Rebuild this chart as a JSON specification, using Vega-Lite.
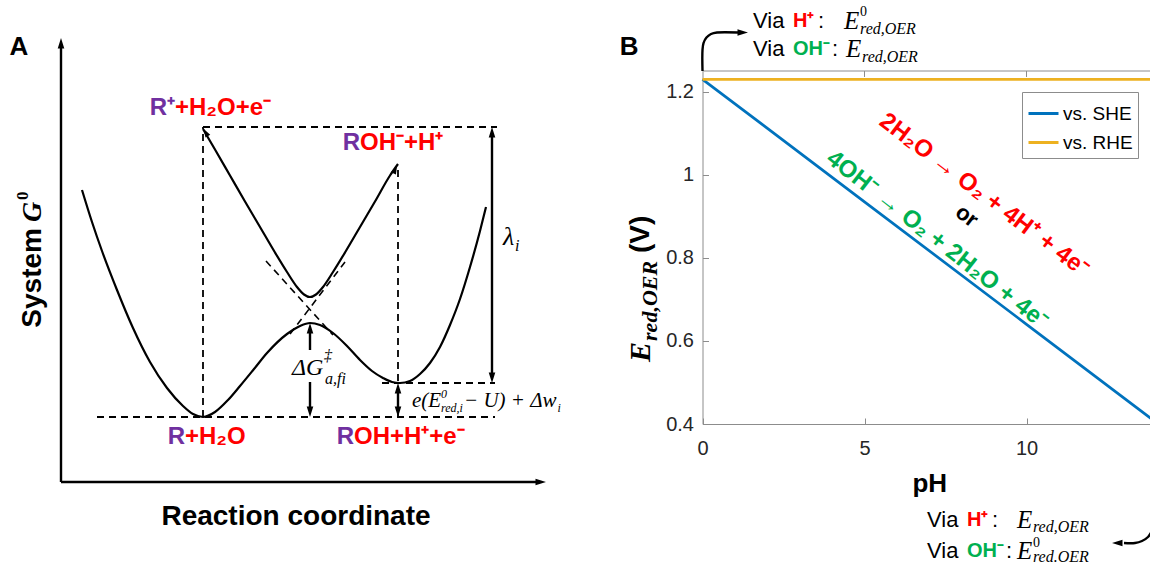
{
  "$schema": "https://vega.github.io/schema/vega-lite/v6.json",
  "width": 1150,
  "height": 567,
  "autosize": {"type": "none"},
  "padding": 0,
  "background": "#ffffff",
  "config": {"view": {"stroke": null}, "font": "Liberation Sans"},
  "datasets": {
    "A_lower": [
      {"x": 0.82, "y": 3.77}, {"x": 0.92, "y": 3.45}, {"x": 1.02, "y": 3.16}, {"x": 1.17, "y": 2.77},
      {"x": 1.33, "y": 2.39}, {"x": 1.50, "y": 2.05}, {"x": 1.67, "y": 1.79}, {"x": 1.83, "y": 1.61},
      {"x": 1.93, "y": 1.53}, {"x": 2.03, "y": 1.50}, {"x": 2.15, "y": 1.55}, {"x": 2.28, "y": 1.67},
      {"x": 2.40, "y": 1.81}, {"x": 2.54, "y": 1.98}, {"x": 2.67, "y": 2.14}, {"x": 2.87, "y": 2.33},
      {"x": 3.00, "y": 2.41}, {"x": 3.10, "y": 2.44}, {"x": 3.20, "y": 2.42}, {"x": 3.33, "y": 2.34},
      {"x": 3.47, "y": 2.21}, {"x": 3.60, "y": 2.07}, {"x": 3.72, "y": 1.96}, {"x": 3.83, "y": 1.89},
      {"x": 3.92, "y": 1.85}, {"x": 4.00, "y": 1.84}, {"x": 4.10, "y": 1.86}, {"x": 4.20, "y": 1.93},
      {"x": 4.30, "y": 2.04}, {"x": 4.40, "y": 2.20}, {"x": 4.50, "y": 2.42}, {"x": 4.60, "y": 2.68},
      {"x": 4.70, "y": 3.00}, {"x": 4.80, "y": 3.36}, {"x": 4.86, "y": 3.60}
    ],
    "A_upper": [
      {"x": 2.03, "y": 4.38}, {"x": 2.15, "y": 4.175}, {"x": 2.30, "y": 3.915}, {"x": 2.45, "y": 3.655},
      {"x": 2.60, "y": 3.40}, {"x": 2.75, "y": 3.145}, {"x": 2.87, "y": 2.95}, {"x": 2.97, "y": 2.80},
      {"x": 3.04, "y": 2.725}, {"x": 3.10, "y": 2.70}, {"x": 3.16, "y": 2.725}, {"x": 3.23, "y": 2.80},
      {"x": 3.33, "y": 2.95}, {"x": 3.45, "y": 3.145}, {"x": 3.60, "y": 3.40}, {"x": 3.75, "y": 3.655},
      {"x": 3.90, "y": 3.915}, {"x": 3.98, "y": 4.03}
    ],
    "A_diab": [
      {"x": 2.66, "y": 3.06, "seg": "product"}, {"x": 3.33, "y": 2.32, "seg": "product"},
      {"x": 2.90, "y": 2.33, "seg": "reactant"}, {"x": 3.45, "y": 3.05, "seg": "reactant"}
    ],
    "A_guides": [
      {"x": 0.97, "y": 1.50, "x2": 4.95, "y2": 1.50},
      {"x": 2.03, "y": 4.40, "x2": 4.97, "y2": 4.40},
      {"x": 3.82, "y": 1.84, "x2": 4.95, "y2": 1.84},
      {"x": 2.03, "y": 1.50, "x2": 2.03, "y2": 4.40},
      {"x": 3.98, "y": 1.50, "x2": 3.98, "y2": 4.02}
    ],
    "A_shafts": [
      {"x": 0.61, "y": 0.85, "x2": 0.61, "y2": 5.23},
      {"x": 0.61, "y": 0.85, "x2": 5.40, "y2": 0.85},
      {"x": 4.92, "y": 4.34, "x2": 4.92, "y2": 1.90},
      {"x": 3.10, "y": 2.38, "x2": 3.10, "y2": 2.17},
      {"x": 3.10, "y": 1.85, "x2": 3.10, "y2": 1.56},
      {"x": 3.98, "y": 1.78, "x2": 3.98, "y2": 1.56}
    ],
    "A_heads": [
      {"x": 0.61, "y": 5.23, "dir": "up"},
      {"x": 4.92, "y": 4.34, "dir": "up"},
      {"x": 3.10, "y": 2.38, "dir": "up"},
      {"x": 3.98, "y": 1.78, "dir": "up"},
      {"x": 4.92, "y": 1.90, "dir": "down"},
      {"x": 3.10, "y": 1.56, "dir": "down"},
      {"x": 3.98, "y": 1.56, "dir": "down"},
      {"x": 5.40, "y": 0.85, "dir": "right"},
      {"x": 2.06, "y": 4.34, "dir": "upleft"},
      {"x": 3.95, "y": 3.97, "dir": "upright"}
    ],
    "A_species": [
      {"x": 1.75, "y": 4.59, "pre": "R⁺", "rest": "+H₂O+e⁻"},
      {"x": 3.60, "y": 4.24, "pre": "R", "rest": "OH⁻+H⁺"},
      {"x": 1.85, "y": 1.30, "pre": "R", "rest": "+H₂O"},
      {"x": 3.54, "y": 1.30, "pre": "R", "rest": "OH+H⁺+e⁻"}
    ],
    "A_panel": [{"x": 0.19, "y": 5.20, "t": "A"}],
    "A_xtitle": [{"x": 2.96, "y": 0.50, "t": "Reaction coordinate"}],
    "A_ysys": [{"x": 0.33, "y": 3.39, "t": "System"}],
    "A_yG": [{"x": 0.33, "y": 3.45, "t": "G"}],
    "A_yG0": [{"x": 0.23, "y": 3.67, "t": "0"}],
    "A_m26": [{"x": 5.03, "y": 3.30, "t": "λ"}],
    "A_m24": [{"x": 2.92, "y": 1.99, "t": "ΔG"}],
    "A_m21": [{"x": 4.12, "y": 1.66, "t": "e(E"}, {"x": 4.64, "y": 1.66, "t": " − U) + Δw"}],
    "A_m16": [{"x": 5.15, "y": 3.21, "t": "i"}, {"x": 3.24, "y": 2.11, "t": "‡"}, {"x": 3.25, "y": 1.88, "t": "a,fi"}],
    "A_m12": [{"x": 4.41, "y": 1.73, "t": "0"}, {"x": 4.41, "y": 1.59, "t": "red,i"}, {"x": 5.575, "y": 1.59, "t": "i"}],
    "B_lines": [
      {"pH": 0, "E": 1.23, "ref": "vs. SHE"}, {"pH": 5, "E": 0.935, "ref": "vs. SHE"},
      {"pH": 10, "E": 0.64, "ref": "vs. SHE"}, {"pH": 14, "E": 0.404, "ref": "vs. SHE"},
      {"pH": 0, "E": 1.23, "ref": "vs. RHE"}, {"pH": 14, "E": 1.23, "ref": "vs. RHE"}
    ],
    "B_frame": [
      {"pH": 0, "E": 1.25, "pH2": 14, "E2": 1.25},
      {"pH": 5, "E": 1.25, "pH2": 5, "E2": 1.2356},
      {"pH": 10, "E": 1.25, "pH2": 10, "E2": 1.2356}
    ],
    "B_arrow": [
      {"pH": 0, "E": 1.25, "seg": "top", "i": 0}, {"pH": 0, "E": 1.3006, "seg": "top", "i": 1},
      {"pH": 0.031, "E": 1.3174, "seg": "top", "i": 2}, {"pH": 0.123, "E": 1.3306, "seg": "top", "i": 3},
      {"pH": 0.262, "E": 1.339, "seg": "top", "i": 4}, {"pH": 0.448, "E": 1.3427, "seg": "top", "i": 5},
      {"pH": 1.096, "E": 1.3427, "seg": "top", "i": 6},
      {"pH": 13.873, "E": 0.1424, "seg": "bottom", "i": 0}, {"pH": 13.75, "E": 0.1279, "seg": "bottom", "i": 1},
      {"pH": 13.565, "E": 0.1183, "seg": "bottom", "i": 2}, {"pH": 13.349, "E": 0.1135, "seg": "bottom", "i": 3},
      {"pH": 13.009, "E": 0.1135, "seg": "bottom", "i": 4}
    ],
    "B_heads": [{"pH": 1.219, "E": 1.3427, "dir": "right"}, {"pH": 12.824, "E": 0.1135, "dir": "left"}],
    "B_panel": [{"pH": -2.268, "E": 1.308, "t": "B"}],
    "B_eqR": [{"pH": 8.69, "E": 0.951, "t": "2H₂O → O₂ + 4H⁺ + 4e⁻"}],
    "B_eqG": [{"pH": 7.24, "E": 0.843, "t": "4OH⁻ → O₂ + 2H₂O + 4e⁻"}],
    "B_or": [{"pH": 8.16, "E": 0.901, "t": "or"}],
    "B_via": [{"pH": 1.559, "E": 1.3704}, {"pH": 1.559, "E": 1.303}, {"pH": 6.929, "E": 0.1688}, {"pH": 6.929, "E": 0.0942}],
    "B_H": [{"pH": 2.793, "E": 1.3704}, {"pH": 8.164, "E": 0.1688}],
    "B_OH": [{"pH": 2.793, "E": 1.303}, {"pH": 8.164, "E": 0.0942}],
    "B_colon": [{"pH": 3.565, "E": 1.3704}, {"pH": 3.997, "E": 1.303}, {"pH": 8.935, "E": 0.1688}, {"pH": 9.367, "E": 0.0942}],
    "B_E": [{"pH": 4.367, "E": 1.3704}, {"pH": 4.429, "E": 1.303}, {"pH": 9.707, "E": 0.1688}, {"pH": 9.707, "E": 0.0942}],
    "B_sup": [{"pH": 4.861, "E": 1.392, "t": "0"}, {"pH": 10.2, "E": 0.1135, "t": "0"}],
    "B_sub": [
      {"pH": 4.861, "E": 1.3511, "t": "red,OER"}, {"pH": 4.923, "E": 1.2837, "t": "red,OER"},
      {"pH": 10.2, "E": 0.152, "t": "red,OER"}, {"pH": 10.2, "E": 0.0798, "t": "red.OER"}
    ],
    "B_ytE": [{"pH": -1.898, "E": 0.549, "t": "E"}],
    "B_ytSub": [{"pH": -1.62, "E": 0.6, "t": "red,OER"}],
    "B_ytV": [{"pH": -1.898, "E": 0.8118, "t": "(V)"}]
  },
  "layer": [
    {
      "encoding": {
        "x": {"field": "x", "type": "quantitative", "scale": {"domain": [0, 6], "range": [0, 600], "nice": false, "zero": false}, "axis": null},
        "y": {"field": "y", "type": "quantitative", "scale": {"domain": [0, 5.67], "range": [567, 0], "nice": false, "zero": false}, "axis": null}
      },
      "layer": [
        {"data": {"name": "A_guides"}, "mark": {"type": "rule", "color": "#000000", "strokeWidth": 1.8, "strokeDash": [7, 5]}, "encoding": {"x2": {"field": "x2"}, "y2": {"field": "y2"}}},
        {"data": {"name": "A_diab"}, "mark": {"type": "line", "color": "#000000", "strokeWidth": 1.6, "strokeDash": [7, 5]}, "encoding": {"detail": {"field": "seg"}}},
        {"data": {"name": "A_lower"}, "mark": {"type": "line", "color": "#000000", "strokeWidth": 2.2, "interpolate": "monotone"}},
        {"data": {"name": "A_upper"}, "mark": {"type": "line", "color": "#000000", "strokeWidth": 2.2, "interpolate": "monotone"}},
        {"data": {"name": "A_shafts"}, "mark": {"type": "rule", "color": "#000000", "strokeWidth": 2.4}, "encoding": {"x2": {"field": "x2"}, "y2": {"field": "y2"}}},
        {"data": {"name": "A_heads"}, "transform": [{"filter": "datum.dir === 'up'"}], "mark": {"type": "point", "filled": true, "color": "#000000", "opacity": 1, "size": 144, "shape": "M0,-1L0.55,0.75L-0.55,0.75Z"}},
        {"data": {"name": "A_heads"}, "transform": [{"filter": "datum.dir === 'down'"}], "mark": {"type": "point", "filled": true, "color": "#000000", "opacity": 1, "size": 144, "shape": "M0,1L0.55,-0.75L-0.55,-0.75Z"}},
        {"data": {"name": "A_heads"}, "transform": [{"filter": "datum.dir === 'right'"}], "mark": {"type": "point", "filled": true, "color": "#000000", "opacity": 1, "size": 144, "shape": "M1,0L-0.75,0.55L-0.75,-0.55Z"}},
        {"data": {"name": "A_heads"}, "transform": [{"filter": "datum.dir === 'upleft'"}], "mark": {"type": "point", "filled": true, "color": "#000000", "opacity": 1, "size": 100, "angle": -30, "shape": "M0,-1L0.55,0.75L-0.55,0.75Z"}},
        {"data": {"name": "A_heads"}, "transform": [{"filter": "datum.dir === 'upright'"}], "mark": {"type": "point", "filled": true, "color": "#000000", "opacity": 1, "size": 100, "angle": 25, "shape": "M0,-1L0.55,0.75L-0.55,0.75Z"}},
        {"data": {"name": "A_species"}, "mark": {"type": "text", "align": "right", "baseline": "middle", "fontSize": 24, "fontWeight": "bold", "font": "Liberation Sans", "color": "#7030A0"}, "encoding": {"text": {"field": "pre"}}},
        {"data": {"name": "A_species"}, "mark": {"type": "text", "align": "left", "baseline": "middle", "fontSize": 24, "fontWeight": "bold", "font": "Liberation Sans", "color": "#FF0000"}, "encoding": {"text": {"field": "rest"}}},
        {"data": {"name": "A_panel"}, "mark": {"type": "text", "align": "center", "baseline": "middle", "fontSize": 26, "fontWeight": "bold", "font": "Liberation Sans", "color": "#000000"}, "encoding": {"text": {"field": "t"}}},
        {"data": {"name": "A_xtitle"}, "mark": {"type": "text", "align": "center", "baseline": "middle", "fontSize": 28, "fontWeight": "bold", "font": "Liberation Sans", "color": "#000000"}, "encoding": {"text": {"field": "t"}}},
        {"data": {"name": "A_ysys"}, "mark": {"type": "text", "align": "right", "baseline": "middle", "angle": 270, "fontSize": 28, "fontWeight": "bold", "font": "Liberation Sans", "color": "#000000"}, "encoding": {"text": {"field": "t"}}},
        {"data": {"name": "A_yG"}, "mark": {"type": "text", "align": "left", "baseline": "middle", "angle": 270, "fontSize": 28, "fontWeight": "bold", "fontStyle": "italic", "font": "Liberation Serif", "color": "#000000"}, "encoding": {"text": {"field": "t"}}},
        {"data": {"name": "A_yG0"}, "mark": {"type": "text", "align": "left", "baseline": "middle", "angle": 270, "fontSize": 17, "fontWeight": "bold", "font": "Liberation Serif", "color": "#000000"}, "encoding": {"text": {"field": "t"}}},
        {"data": {"name": "A_m26"}, "mark": {"type": "text", "align": "left", "baseline": "middle", "fontSize": 26, "fontStyle": "italic", "font": "Liberation Serif", "color": "#000000"}, "encoding": {"text": {"field": "t"}}},
        {"data": {"name": "A_m24"}, "mark": {"type": "text", "align": "left", "baseline": "middle", "fontSize": 24, "fontStyle": "italic", "font": "Liberation Serif", "color": "#000000"}, "encoding": {"text": {"field": "t"}}},
        {"data": {"name": "A_m21"}, "mark": {"type": "text", "align": "left", "baseline": "middle", "fontSize": 21, "fontStyle": "italic", "font": "Liberation Serif", "color": "#000000"}, "encoding": {"text": {"field": "t"}}},
        {"data": {"name": "A_m16"}, "mark": {"type": "text", "align": "left", "baseline": "middle", "fontSize": 16, "fontStyle": "italic", "font": "Liberation Serif", "color": "#000000"}, "encoding": {"text": {"field": "t"}}},
        {"data": {"name": "A_m12"}, "mark": {"type": "text", "align": "left", "baseline": "middle", "fontSize": 12, "fontStyle": "italic", "font": "Liberation Serif", "color": "#000000"}, "encoding": {"text": {"field": "t"}}}
      ]
    },
    {
      "encoding": {
        "x": {"field": "pH", "type": "quantitative",
          "scale": {"domain": [0, 14], "range": [702.5, 1156.1], "nice": false, "zero": false},
          "axis": {"orient": "bottom", "offset": -143, "values": [0, 5, 10], "tickSize": -6, "tickColor": "#8c8c8c", "domainColor": "#8c8c8c", "domainWidth": 1, "tickWidth": 1,
            "labelFontSize": 20, "labelFont": "Liberation Sans", "labelColor": "#262626", "labelPadding": 20, "labelFlush": false, "labelOverlap": false, "grid": false,
            "title": "pH", "titleFont": "Liberation Sans", "titleFontSize": 26, "titleFontWeight": "bold", "titleColor": "#000000", "titlePadding": 12}},
        "y": {"field": "E", "type": "quantitative",
          "scale": {"domain": [0.4, 1.25], "range": [424, 71], "nice": false, "zero": false},
          "axis": {"orient": "left", "offset": -702.5, "values": [0.4, 0.6, 0.8, 1, 1.2], "format": "~g", "tickSize": -6, "tickColor": "#8c8c8c", "domainColor": "#8c8c8c", "domainWidth": 1, "tickWidth": 1,
            "labelFontSize": 20, "labelFont": "Liberation Sans", "labelColor": "#262626", "labelPadding": 15, "labelOverlap": false, "grid": false, "title": null}}
      },
      "layer": [
        {"data": {"name": "B_frame"}, "mark": {"type": "rule", "color": "#8c8c8c", "strokeWidth": 1}, "encoding": {"x2": {"field": "pH2"}, "y2": {"field": "E2"}}},
        {"data": {"name": "B_lines"}, "mark": {"type": "line", "strokeWidth": 2.7},
          "encoding": {"color": {"field": "ref", "type": "nominal",
            "scale": {"domain": ["vs. SHE", "vs. RHE"], "range": ["#0072BD", "#EDB120"]},
            "legend": {"orient": "none", "legendX": 1022, "legendY": 92, "title": null, "symbolType": "stroke", "symbolSize": 900, "symbolStrokeWidth": 3,
              "labelFontSize": 19, "labelFont": "Liberation Sans", "labelColor": "#000000", "fillColor": "#ffffff", "strokeColor": "#8c8c8c",
              "padding": 5, "rowPadding": 2, "labelOffset": 3, "symbolOffset": 0}}}},
        {"data": {"name": "B_arrow"}, "mark": {"type": "line", "color": "#000000", "strokeWidth": 2.4, "interpolate": "catmull-rom"},
          "encoding": {"detail": {"field": "seg"}, "order": {"field": "i", "type": "quantitative"}}},
        {"data": {"name": "B_heads"}, "transform": [{"filter": "datum.dir === 'right'"}], "mark": {"type": "point", "filled": true, "color": "#000000", "opacity": 1, "size": 144, "shape": "M1,0L-0.75,0.55L-0.75,-0.55Z"}},
        {"data": {"name": "B_heads"}, "transform": [{"filter": "datum.dir === 'left'"}], "mark": {"type": "point", "filled": true, "color": "#000000", "opacity": 1, "size": 144, "shape": "M-1,0L0.75,0.55L0.75,-0.55Z"}},
        {"data": {"name": "B_panel"}, "mark": {"type": "text", "align": "center", "baseline": "middle", "fontSize": 26, "fontWeight": "bold", "font": "Liberation Sans", "color": "#000000"}, "encoding": {"text": {"field": "t"}}},
        {"data": {"name": "B_eqR"}, "mark": {"type": "text", "align": "center", "baseline": "middle", "angle": 37, "fontSize": 24, "fontWeight": "bold", "font": "Liberation Sans", "color": "#FF0000"}, "encoding": {"text": {"field": "t"}}},
        {"data": {"name": "B_eqG"}, "mark": {"type": "text", "align": "center", "baseline": "middle", "angle": 38, "fontSize": 24, "fontWeight": "bold", "font": "Liberation Sans", "color": "#00B050"}, "encoding": {"text": {"field": "t"}}},
        {"data": {"name": "B_or"}, "mark": {"type": "text", "align": "center", "baseline": "middle", "angle": 37, "fontSize": 22, "fontWeight": "bold", "font": "Liberation Sans", "color": "#000000"}, "encoding": {"text": {"field": "t"}}},
        {"data": {"name": "B_via"}, "mark": {"type": "text", "align": "left", "baseline": "middle", "fontSize": 22, "font": "Liberation Sans", "color": "#000000", "text": "Via"}},
        {"data": {"name": "B_H"}, "mark": {"type": "text", "align": "left", "baseline": "middle", "fontSize": 20, "fontWeight": "bold", "font": "Liberation Sans", "color": "#FF0000", "text": "H⁺"}},
        {"data": {"name": "B_OH"}, "mark": {"type": "text", "align": "left", "baseline": "middle", "fontSize": 20, "fontWeight": "bold", "font": "Liberation Sans", "color": "#00B050", "text": "OH⁻"}},
        {"data": {"name": "B_colon"}, "mark": {"type": "text", "align": "left", "baseline": "middle", "fontSize": 22, "font": "Liberation Sans", "color": "#000000", "text": ":"}},
        {"data": {"name": "B_E"}, "mark": {"type": "text", "align": "left", "baseline": "middle", "fontSize": 25, "fontStyle": "italic", "font": "Liberation Serif", "color": "#000000", "text": "E"}},
        {"data": {"name": "B_sup"}, "mark": {"type": "text", "align": "left", "baseline": "middle", "fontSize": 14, "font": "Liberation Serif", "color": "#000000"}, "encoding": {"text": {"field": "t"}}},
        {"data": {"name": "B_sub"}, "mark": {"type": "text", "align": "left", "baseline": "middle", "fontSize": 16, "fontStyle": "italic", "font": "Liberation Serif", "color": "#000000"}, "encoding": {"text": {"field": "t"}}},
        {"data": {"name": "B_ytE"}, "mark": {"type": "text", "align": "left", "baseline": "middle", "angle": 270, "fontSize": 30, "fontWeight": "bold", "fontStyle": "italic", "font": "Liberation Serif", "color": "#000000"}, "encoding": {"text": {"field": "t"}}},
        {"data": {"name": "B_ytSub"}, "mark": {"type": "text", "align": "left", "baseline": "middle", "angle": 270, "fontSize": 22, "fontWeight": "bold", "fontStyle": "italic", "font": "Liberation Serif", "color": "#000000"}, "encoding": {"text": {"field": "t"}}},
        {"data": {"name": "B_ytV"}, "mark": {"type": "text", "align": "left", "baseline": "middle", "angle": 270, "fontSize": 28, "fontWeight": "bold", "font": "Liberation Sans", "color": "#000000"}, "encoding": {"text": {"field": "t"}}}
      ]
    }
  ],
  "resolve": {"scale": {"x": "independent", "y": "independent"}}
}
